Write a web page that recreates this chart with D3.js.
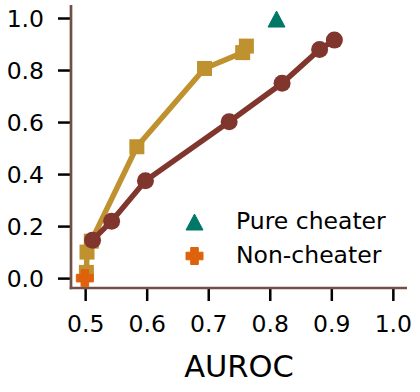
<!DOCTYPE html>
<html>
<head>
<meta charset="utf-8">
<script src="https://cdn.jsdelivr.net/npm/d3@7"></script>
<style>
  body { margin: 0; background: #fff; }
  text { font-family: "DejaVu Sans", sans-serif; fill: #000; }
</style>
</head>
<body>
<div id="chart"></div>
<script>
// values
var xTicks = [0.5, 0.6, 0.7, 0.8, 0.9, 1.0],
    yTicks = [0.0, 0.2, 0.4, 0.6, 0.8, 1.0];

var goldX = [0.502, 0.503, 0.510, 0.584, 0.694, 0.756, 0.762],
    goldY = [0.022, 0.100, 0.142, 0.505, 0.806, 0.867, 0.892];

var brownX = [0.512, 0.543, 0.598, 0.734, 0.820, 0.881, 0.905],
    brownY = [0.146, 0.219, 0.374, 0.601, 0.749, 0.879, 0.915];

var cheaterX = [0.811], cheaterY = [0.996];
var honestX = [0.4995], honestY = [0.0];

var legendLabels = ["Pure cheater", "Non-cheater"];

(function() {
    var width = 420, height = 392;
    var left = 71, right = 407, top = 5, bottom = 288;

    var colors = {
        gold: "#c0912f",
        brown: "#80362d",
        teal: "#007868",
        orange: "#de620c",
        spine: "#705045"
    };

    var svg = d3.select("#chart")
        .append("svg")
        .attr("width", width)
        .attr("height", height);

    var x = d3.scaleLinear().domain([0.477, 1.023]).range([left, right]);
    var y = d3.scaleLinear().domain([-0.038, 1.05]).range([bottom, top]);

    // axes
    var yAxis = svg.append("g")
        .attr("transform", "translate(" + left + ",0)")
        .call(d3.axisLeft(y).tickValues(yTicks).tickFormat(d3.format(".1f")).tickSize(13).tickPadding(14));
    var xAxis = svg.append("g")
        .attr("transform", "translate(0," + bottom + ")")
        .call(d3.axisBottom(x).tickValues(xTicks).tickFormat(d3.format(".1f")).tickSize(13).tickPadding(14));

    [xAxis, yAxis].forEach(function(a) {
        a.select(".domain").remove();
        a.selectAll(".tick line").attr("stroke", "#000").attr("stroke-width", 2.5);
        a.selectAll(".tick text").style("font-size", "23.5px").attr("fill", "#000");
    });
    yAxis.selectAll(".tick text").attr("dy", "0.36em");
    xAxis.selectAll(".tick text").attr("dy", "0.74em");

    // spines
    svg.append("line").attr("x1", left).attr("x2", left).attr("y1", top).attr("y2", bottom + 1.3)
        .attr("stroke", colors.spine).attr("stroke-width", 2.7);
    svg.append("line").attr("x1", left - 1.3).attr("x2", right).attr("y1", bottom).attr("y2", bottom)
        .attr("stroke", colors.spine).attr("stroke-width", 2.7);

    svg.append("text")
        .attr("x", (left + right) / 2)
        .attr("y", 377)
        .attr("text-anchor", "middle")
        .style("font-size", "30.5px")
        .text("AUROC");

    var line = d3.line().x(d => x(d[0])).y(d => y(d[1]));

    var gold = goldX.map((v, i) => [v, goldY[i]]);
    var brown = brownX.map((v, i) => [v, brownY[i]]);

    // gold series with squares
    svg.append("path").datum(gold)
        .attr("d", line)
        .attr("fill", "none")
        .attr("stroke", colors.gold)
        .attr("stroke-width", 5.5);
    var sq = 15;
    svg.selectAll(".gold_pt")
        .data(gold)
        .enter().append("rect")
        .attr("class", "gold_pt")
        .attr("x", d => x(d[0]) - sq / 2)
        .attr("y", d => y(d[1]) - sq / 2)
        .attr("width", sq)
        .attr("height", sq)
        .attr("fill", colors.gold);

    // brown series with circles
    svg.append("path").datum(brown)
        .attr("d", line)
        .attr("fill", "none")
        .attr("stroke", colors.brown)
        .attr("stroke-width", 5.5);
    svg.selectAll(".brown_pt")
        .data(brown)
        .enter().append("circle")
        .attr("class", "brown_pt")
        .attr("cx", d => x(d[0]))
        .attr("cy", d => y(d[1]))
        .attr("r", 8.5)
        .attr("fill", colors.brown);

    function triangle(cx, cy) {
        var w = 17, h = 16;
        return "M" + cx + "," + (cy - h / 2) +
            "L" + (cx + w / 2) + "," + (cy + h / 2) +
            "L" + (cx - w / 2) + "," + (cy + h / 2) + "Z";
    }

    function plus(cx, cy) {
        var a = 8.5, b = 3.8;
        return "M" + (cx - b) + "," + (cy - a) + "H" + (cx + b) + "V" + (cy - b) +
            "H" + (cx + a) + "V" + (cy + b) + "H" + (cx + b) + "V" + (cy + a) +
            "H" + (cx - b) + "V" + (cy + b) + "H" + (cx - a) + "V" + (cy - b) +
            "H" + (cx - b) + "Z";
    }

    cheaterX.forEach(function(v, i) {
        svg.append("path").attr("d", triangle(x(v), y(cheaterY[i])))
            .attr("fill", colors.teal).attr("stroke", colors.teal)
            .attr("stroke-width", 1).attr("stroke-linejoin", "round");
    });
    honestX.forEach(function(v, i) {
        svg.append("path").attr("d", plus(x(v), y(honestY[i])))
            .attr("fill", colors.orange).attr("stroke", colors.orange)
            .attr("stroke-width", 1).attr("stroke-linejoin", "round");
    });

    // legend
    var legend = svg.append("g");
    var rowY = [222, 256];
    legend.append("path").attr("d", triangle(194.5, rowY[0]))
        .attr("fill", colors.teal).attr("stroke", colors.teal)
        .attr("stroke-width", 1).attr("stroke-linejoin", "round");
    legend.append("path").attr("d", plus(194.5, rowY[1]))
        .attr("fill", colors.orange).attr("stroke", colors.orange)
        .attr("stroke-width", 1).attr("stroke-linejoin", "round");
    legend.selectAll("text")
        .data(legendLabels)
        .enter().append("text")
        .attr("x", 236)
        .attr("y", (d, i) => rowY[i] + 6.5)
        .style("font-size", "23.5px")
        .text(d => d);
})();
</script>
</body>
</html>
